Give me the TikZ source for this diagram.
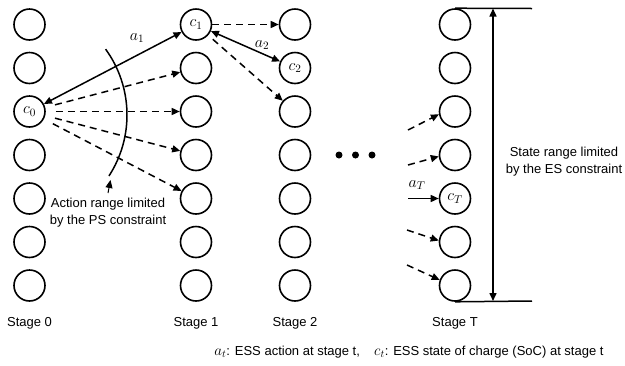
\documentclass[tikz,border=0pt]{standalone}
\usepackage{fix-cm}
\usepackage{fontspec}
\setmainfont{Liberation Sans}
\usetikzlibrary{arrows.meta}
\newcommand\legmath[1]{{\fontsize{15}{17}\selectfont$#1$}}
\begin{document}
\begin{tikzpicture}[x=1pt,y=-1pt,
  line width=1.5pt,
  state/.style={circle,draw,line width=1.6pt,minimum size=31pt,inner sep=0pt,font=\fontsize{16}{18}\selectfont},
  txt/.style={font=\fontsize{13}{17}\selectfont,inner sep=0pt},
  mlab/.style={font=\fontsize{16}{18}\selectfont,inner sep=0pt},
  onetip/.style={-{Triangle[length=8pt,width=7pt]}},
  twotips/.style={{Triangle[length=8pt,width=7pt]}-{Triangle[length=8pt,width=7pt]}},
  dsh/.style={dash pattern=on 7pt off 5pt},
  dot/.style={circle,fill,inner sep=0pt,minimum size=7pt}]
\useasboundingbox (0,0) rectangle (625,365);

% seven state circles per stage, one of them labelled
\foreach \col/\x/\lab/\labrow in {a/29.5/c_0/3, b/196/c_1/1, d/295/c_2/2, t/455/c_T/5}{
  \foreach \i in {1,...,7}{
    \node[state] (\col\i) at (\x,{24.5+43.5*(\i-1)}) {\ifnum\i=\labrow $\lab$\fi};
  }
}

% actions from stage 0
\draw[twotips] (a3) -- (b1);
\foreach \j in {2,...,5}{
  \draw[onetip,dsh,shorten <=10pt] (a3) -- (b\j);
}
\node[mlab] at (137,38) {$a_1$};

% actions from stage 1
\draw[twotips] (b1) -- (d2);
\draw[onetip,dsh] (b1) -- (d1);
\draw[onetip,dsh,shorten <=6pt] (b1) -- (d3);
\node[mlab] at (262,45) {$a_2$};

% power limit arc
\draw (15pt,-115pt) ++(36:112pt) arc[start angle=36,end angle=-33,radius=112pt];
\node[txt,align=center] (ps) at (108,213) {Action range limited\\by the PS constraint};
\coordinate (psfoot) at (108,193);
\coordinate (pshead) at (110.5,180);
\draw[onetip,line width=1pt] (psfoot) -- (pshead);

% intermediate stages
\node[dot] (p1) at (339,155) {};
\node[dot] (p2) at (355.5,155) {};
\node[dot] (p3) at (372,155) {};

% actions into stage T
\coordinate (s3) at (408,130);
\coordinate (s4) at (408,165);
\coordinate (s5) at (408,198.5);
\coordinate (s6) at (407,230);
\coordinate (s7) at (407,265);
\draw[onetip,dsh] (s3) -- (t3.190);
\draw[onetip,dsh] (s4) -- (t4.185);
\draw[onetip] (s5) -- (t5.west);
\draw[onetip,dsh] (s6) -- (t6.175);
\draw[onetip,dsh] (s7) -- (t7.160);
\node[mlab] at (417,185) {$a_T$};

% energy limit bounds
\coordinate (topend) at (532,8.5);
\coordinate (botend) at (532,301);
\draw (t1.north) -- (topend);
\draw (t7.south) -- (botend);
\coordinate (esTop) at (493,8.5);
\coordinate (esBot) at (493,301);
\draw[twotips] (esTop) -- (esBot);
\node[txt,align=center] (es) at (564,161.5) {State range limited\\by the ES constraint};

% stage captions
\node[txt] (l0) at (29.5,323) {Stage 0};
\node[txt] (l1) at (196,323) {Stage 1};
\node[txt] (l2) at (295,323) {Stage 2};
\node[txt] (lT) at (455,323) {Stage T};

% legend
\node[txt] (legend) at (409,352) {\legmath{a_t}: ESS action at stage t,\hspace{1.1em}\legmath{c_t}: ESS state of charge (SoC) at stage t};
\end{tikzpicture}
\end{document}
